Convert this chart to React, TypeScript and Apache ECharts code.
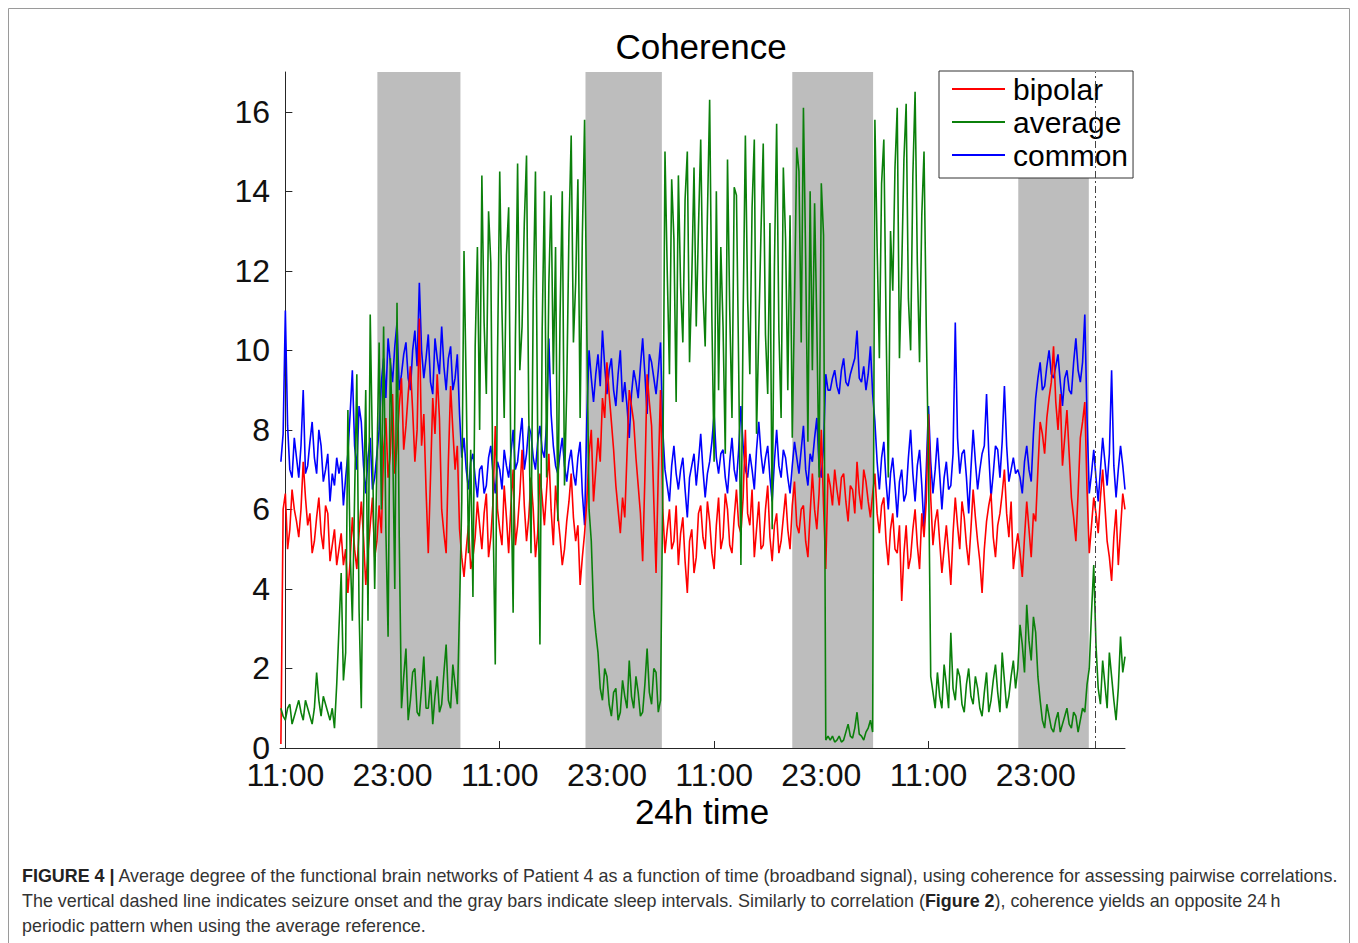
import React, { useEffect, useRef } from "react";
import * as echarts from "echarts";

// time axis: hours since the first 11:00 tick; main samples every half hour,
// the *Mid arrays hold the readings a quarter hour after each main sample
const T0 = -0.5;
const STEP = 0.5;

const bipolar = [
  0.1, 6.4, 5.5, 6.0, 5.3, 7.2, 5.6, 4.9, 5.8, 5.4, 6.1, 4.7, 5.5,
  5.0, 4.6, 3.9, 5.8, 4.5, 6.2, 4.1, 5.6, 4.8,
  6.1, 7.5, 6.8, 8.9, 7.6, 9.3, 8.1, 9.6, 7.2, 10.8, 8.4, 4.9, 8.8, 9.4, 6.0, 4.9, 9.1, 7.0, 5.5,
  4.3, 5.6, 4.8, 6.2, 5.0, 6.4, 5.3, 8.1, 5.5, 6.6, 4.9, 7.0, 5.6, 7.5, 5.2, 6.8, 4.8, 6.9, 5.6, 7.4, 5.1, 5.9, 4.6, 5.7, 6.9, 5.2, 4.1, 5.4,
  7.4, 6.2, 7.8, 8.8, 9.7, 8.2, 6.6, 5.4, 5.8, 9.0, 8.2, 6.6, 4.7, 9.4, 8.1, 4.4, 9.0,
  4.9, 6.0, 5.2, 4.6, 5.8, 3.9, 5.5, 4.8, 6.1, 5.0, 5.7, 4.5, 6.3, 5.3, 6.0, 4.9, 6.5, 5.4, 8.0, 5.6, 4.8, 6.2, 5.1, 6.6, 4.7, 5.9, 5.2, 6.4, 5.0, 6.7, 5.4, 6.1, 4.8, 6.9, 5.5, 8.0, 4.5,
  6.6, 7.0, 6.1, 6.9, 5.7, 6.5, 7.2, 6.0, 6.7, 5.8,
  6.9, 5.4, 6.3, 4.6, 5.9, 4.9, 3.7, 5.6, 4.8, 6.0, 4.5, 5.3, 8.4,
  5.1, 6.0, 4.4, 5.6, 4.1, 6.3, 5.0, 5.8, 4.6, 6.5, 5.2, 3.9, 5.7, 6.4, 4.8, 5.9, 7.0, 5.3, 4.5,
  5.4, 4.3, 6.2, 4.8, 5.7, 8.2, 7.4, 8.8, 10.1, 8.0, 7.1, 8.5, 6.3, 5.2, 7.8, 8.7,
  4.9, 6.3, 5.4, 7.0, 5.2, 4.2, 6.0, 5.5, 6.0,
];
const bipolarMid = [
  6.0, 5.0, 6.5, 5.7, 6.0, 6.3, 5.9, 5.2, 6.3, 5.0, 5.9, 5.1, 4.6,
  5.4, 5.0, 4.7, 5.0, 5.4, 5.3, 4.9, 6.3, 5.2,
  5.4, 8.3, 7.4, 6.9, 8.6, 7.5, 8.9, 8.5, 8.0, 7.6, 6.5, 6.8, 7.9, 8.3, 5.4, 7.2, 8.0, 7.6, 4.8,
  5.0, 4.5, 5.3, 5.6, 5.9, 4.8, 6.2, 6.0, 5.1, 5.8, 6.1, 5.1, 6.4, 6.1, 5.8, 6.0, 5.4, 6.3, 6.5, 6.0, 6.6, 5.3, 5.0, 6.2, 5.8, 5.6, 4.8, 6.2,
  8.0, 7.0, 7.2, 8.3, 8.9, 7.5, 6.0, 6.3, 7.4, 8.6, 7.3, 5.9, 6.8, 8.7, 6.2, 6.9, 6.0,
  5.5, 5.0, 6.1, 5.4, 4.7, 5.2, 4.4, 5.9, 5.3, 6.2, 4.9, 5.6, 5.0, 6.4, 5.1, 5.8, 5.6, 6.3, 5.9, 6.5, 5.5, 5.0, 6.0, 5.3, 5.6, 4.9, 5.8, 5.5, 6.1, 5.6, 6.0, 5.2, 5.9, 6.0, 6.4, 6.1, 6.9,
  6.1, 6.5, 6.8, 6.2, 6.6, 5.9, 6.4, 7.0, 6.2, 6.4,
  5.9, 6.1, 5.2, 5.5, 5.0, 5.6, 4.9, 4.5, 5.5, 5.1, 5.9, 6.2, 6.3,
  5.7, 5.2, 5.0, 4.9, 5.4, 5.6, 6.2, 5.1, 5.5, 5.8, 4.7, 5.0, 6.1, 5.3, 5.6, 6.4, 5.9, 6.2, 5.0,
  4.9, 5.3, 5.5, 5.9, 7.0, 7.9, 8.3, 9.2, 8.7, 8.9, 7.8, 7.4, 5.8, 6.4, 8.2, 6.5,
  5.6, 5.9, 6.3, 6.1, 4.8, 5.3, 4.6, 6.4,
];

const average = [
  1.0, 0.7, 1.1, 0.8, 1.2, 0.7, 1.0, 0.6, 1.9, 0.8, 1.1, 0.7, 0.5,
  3.0, 1.7, 8.5, 3.2, 9.4, 1.0, 9.0, 10.9, 4.0,
  10.2, 10.6, 2.8, 7.9, 11.2, 1.0, 2.5, 1.2, 2.0, 0.8, 2.3, 1.0, 0.6, 1.8, 1.1, 2.6, 1.0, 1.6, 3.5,
  12.5, 4.9, 3.8, 12.6, 14.4, 8.9, 12.2, 2.1, 14.5, 8.3, 13.6, 3.4, 14.7, 10.6, 14.9, 4.9, 14.5, 2.6, 14.0, 11.7, 9.4, 5.7, 14.0, 9.0, 15.4, 11.7, 8.3, 15.8,
  6.0, 3.5, 2.4, 1.2, 1.8, 0.8, 1.5, 0.9, 1.3, 2.2, 1.0, 1.4, 0.9, 2.5, 1.1, 1.9, 1.2,
  15.0, 9.4, 12.8, 14.4, 10.2, 15.0, 11.8, 10.6, 15.3, 10.1, 16.3, 7.2, 9.0, 10.6, 14.8, 8.3, 13.9, 4.6, 15.4, 9.4, 15.3, 10.5, 15.2, 8.9, 5.5, 15.7, 8.3, 12.8, 13.4, 11.2, 14.5, 16.1, 7.7, 9.5, 10.6, 14.2, 0.2,
  0.2, 0.15, 0.3, 0.2, 0.6, 0.25, 0.9, 0.3, 0.4, 0.7,
  15.8, 9.8, 15.3, 6.8, 11.5, 16.1, 12.0, 16.2, 10.0, 16.5, 9.7, 15.0, 7.2,
  1.4, 1.9, 1.0, 1.6, 2.9, 1.2, 1.8, 0.9, 2.0, 1.1, 1.5, 0.8, 1.9, 1.2, 2.1, 0.9, 1.7, 1.3, 2.2,
  2.0, 2.6, 3.6, 2.2, 2.9, 1.2, 0.5, 0.8, 0.4, 0.9, 0.6, 1.0, 0.5, 0.8, 0.7, 0.9,
  2.0, 4.6, 1.5, 2.2, 1.0, 1.8, 0.7, 2.8, 2.3,
];
const averageMid = [
  0.8, 1.0, 0.6, 1.0, 0.9, 1.2, 0.8, 1.0, 1.2, 1.3, 0.9, 1.0, 1.6,
  4.4, 2.4, 5.0, 6.3, 3.5, 6.0, 3.2, 7.5, 7.2,
  6.0, 5.5, 9.8, 4.0, 5.3, 1.8, 0.7, 1.9, 0.9, 1.5, 1.0, 1.7, 1.3, 0.9, 1.9, 1.2, 2.1, 1.1, 6.2,
  9.0, 7.5, 10.1, 8.0, 10.7, 13.5, 5.9, 9.8, 11.0, 12.4, 6.9, 10.2, 9.5, 13.2, 8.4, 11.3, 7.8, 10.5, 6.8, 13.9, 12.6, 10.8, 6.6, 13.0, 10.2, 14.3, 12.9, 10.5,
  5.2, 2.9, 1.5, 2.0, 1.1, 1.4, 0.7, 1.7, 1.0, 1.3, 1.8, 0.8, 1.6, 1.4, 2.0, 0.9, 6.5,
  12.0, 14.3, 8.7, 11.6, 13.8, 9.7, 14.6, 13.1, 11.5, 13.4, 10.8, 14.0, 12.6, 7.4, 11.0, 14.1, 9.6, 10.9, 11.3, 13.6, 7.9, 13.0, 10.4, 13.2, 12.1, 10.5, 14.6, 9.0, 7.8, 15.1, 10.2, 12.3, 14.0, 13.7, 6.8, 12.9, 0.3,
  0.3, 0.2, 0.15, 0.4, 0.3, 0.5, 0.35, 0.2, 0.5, 0.4,
  12.6, 14.2, 10.7, 13.0, 14.6, 9.8, 14.8, 11.3, 14.4, 12.2, 13.4, 10.6, 1.8,
  1.0, 1.3, 2.1, 1.0, 1.5, 2.0, 1.1, 1.6, 1.3, 1.8, 1.0, 1.4, 0.9, 1.7, 1.4, 2.4, 1.0, 1.8, 1.5,
  3.1, 1.9, 2.7, 3.3, 1.8, 0.7, 1.1, 0.5, 0.7, 0.4, 0.8, 0.6, 0.9, 0.4, 1.0, 1.6,
  3.4, 2.6, 1.1, 1.6, 2.4, 1.2, 1.5, 1.9,
];

const common = [
  7.2, 11.0, 7.0, 7.8, 6.8, 9.0, 7.1, 8.2, 6.9, 7.6, 7.0, 6.2, 6.6,
  6.9, 6.1, 7.4, 9.5, 7.0, 8.2, 6.4, 7.8, 6.8,
  8.0, 9.8, 10.3, 9.2, 10.7, 9.4, 10.2, 9.0, 10.5, 11.7, 9.3, 10.4, 8.9, 9.8, 10.6, 9.0, 10.1, 9.3, 8.4,
  7.8, 6.5, 7.4, 6.3, 7.1, 6.6, 7.6, 6.4, 7.0, 7.5, 6.8, 8.0, 7.2, 8.3, 7.4, 7.9, 7.0, 8.1, 7.3, 10.3, 7.6, 6.9, 7.8, 6.7, 7.5, 6.6, 7.7, 5.6,
  10.0, 8.7, 9.9, 10.5, 8.9, 9.8, 8.6, 10.0, 9.2, 7.8, 9.5, 8.8, 10.3, 8.4, 9.7, 8.9, 10.2,
  7.0, 6.2, 7.6, 6.5, 7.3, 5.8, 7.1, 6.6, 7.9, 6.3, 7.2, 8.4, 6.9, 7.5, 6.4, 7.8, 6.7, 8.6, 7.0, 7.4, 6.5, 8.2, 6.9, 7.6, 6.2, 8.0, 6.8, 7.3, 6.4, 7.7, 6.9, 8.1, 6.6, 7.2, 8.3, 6.8, 9.4,
  9.0, 9.5, 8.9, 9.8, 9.1, 9.6, 10.5, 9.2, 9.0, 10.1,
  8.2, 6.5, 7.7, 6.0, 7.3, 5.8, 7.0, 6.4, 8.0, 6.2, 7.5, 5.5, 8.6,
  6.4, 7.8, 6.0, 7.2, 6.6, 10.7, 6.9, 7.5, 5.9, 8.0, 6.5, 7.4, 8.9, 6.3, 7.6, 6.8, 9.1, 6.7, 7.3,
  7.0, 6.4, 7.6, 6.7, 8.8, 9.7, 9.1, 10.0, 9.3, 9.9, 8.6, 9.5, 8.9, 10.3, 9.2, 10.9,
  6.4, 7.5, 6.2, 7.8, 6.6, 9.5, 6.3, 7.6, 6.5,
];
const commonMid = [
  7.9, 8.1, 6.8, 7.3, 7.6, 6.9, 7.7, 7.3, 8.0, 6.7, 7.4, 6.9, 7.3,
  7.2, 6.8, 8.4, 7.6, 8.6, 7.1, 7.3, 6.5, 7.4,
  9.2, 8.8, 9.7, 10.1, 9.0, 9.9, 9.3, 10.0, 9.6, 10.0, 9.8, 9.2, 10.3, 9.4, 9.6, 9.8, 9.0, 9.9, 7.3,
  7.0, 7.2, 6.8, 7.0, 6.4, 7.3, 6.9, 7.2, 6.5, 7.1, 7.4, 7.0, 7.8, 7.0, 8.1, 7.3, 7.7, 7.5, 8.2, 8.4, 7.1, 7.4, 7.1, 7.2, 6.9, 7.3, 6.4, 8.3,
  9.3, 9.4, 9.1, 9.6, 9.5, 9.0, 9.4, 8.7, 8.6, 8.9, 9.2, 9.6, 9.4, 9.9, 9.3, 9.5, 8.0,
  6.6, 7.1, 6.9, 7.0, 6.5, 6.8, 7.4, 7.2, 7.0, 6.9, 7.7, 7.3, 7.4, 6.8, 7.2, 7.0, 7.5, 7.6, 6.8, 7.0, 7.5, 7.4, 7.3, 6.8, 7.2, 7.1, 7.5, 6.8, 7.1, 7.3, 7.5, 7.0, 7.4, 7.8, 7.1, 7.6, 9.0,
  9.3, 9.1, 9.5, 9.2, 9.4, 9.8, 9.3, 9.6, 9.4, 8.9,
  7.2, 7.3, 6.7, 6.9, 6.6, 6.7, 6.2, 7.3, 6.9, 7.1, 6.6, 7.0, 7.2,
  7.0, 6.9, 6.8, 6.5, 7.4, 7.8, 7.4, 6.8, 7.0, 7.2, 7.0, 7.6, 7.4, 6.9, 7.5, 7.7, 7.6, 7.0, 6.9,
  6.8, 7.2, 7.0, 7.9, 9.3, 9.0, 9.6, 9.4, 9.6, 9.2, 9.3, 9.0, 9.7, 9.5, 9.7, 8.3,
  6.9, 6.8, 7.0, 7.2, 7.4, 7.1, 7.0, 7.1,
];

const X_TICKS = [0, 12, 24, 36, 48, 60, 72, 84];
const X_TICK_LABELS = ["11:00", "23:00", "11:00", "23:00", "11:00", "23:00", "11:00", "23:00"];
const Y_TICKS = [0, 2, 4, 6, 8, 10, 12, 14, 16];
const SLEEP_INTERVALS = [
  [10.3, 19.6],
  [33.6, 42.15],
  [56.75, 65.8],
  [82.05, 89.95],
];
const SEIZURE_ONSET = 90.7;

const SERIES_NAMES = ["bipolar", "average", "common"];
const TITLE = "Coherence";
const X_NAME = "24h time";
const CAPTION = [
  "{b|FIGURE 4 |} Average degree of the functional brain networks of Patient 4 as a function of time (broadband signal), using coherence for assessing pairwise correlations.",
  "The vertical dashed line indicates seizure onset and the gray bars indicate sleep intervals. Similarly to correlation ({b|Figure 2}), coherence yields an opposite 24\u2009h",
  "periodic pattern when using the average reference.",
];

const FONT = "'Liberation Sans', Arial, Helvetica, sans-serif";

function toPoints(values: number[], mids: number[]) {
  const pts: number[][] = [];
  values.forEach((v, i) => {
    const t = T0 + i * STEP;
    pts.push([t, v]);
    if (i < values.length - 1 && mids[i] !== undefined) pts.push([t + STEP / 2, mids[i]]);
  });
  return pts;
}

export default function App() {
  const ref = useRef<HTMLDivElement>(null);

  useEffect(() => {
    if (!ref.current) return;
    const chart = echarts.init(ref.current, null, { renderer: "svg" });
    const axisColor = "#262626";

    const lineSeries = (name: string, values: number[], mids: number[], color: string, z: number) => ({
      name,
      type: "line",
      data: toPoints(values, mids),
      showSymbol: false,
      symbol: "none",
      z,
      lineStyle: { color, width: 1.6 },
      itemStyle: { color },
      emphasis: { disabled: true },
      silent: true,
    });

    chart.setOption({
      animation: false,
      backgroundColor: "#ffffff",
      grid: { left: 280, top: 72, width: 845, height: 676, containLabel: false },
      legend: {
        data: SERIES_NAMES,
        orient: "vertical",
        left: 939,
        top: 71,
        backgroundColor: "#ffffff",
        borderColor: "#333333",
        borderWidth: 1,
        borderRadius: 0,
        padding: [3, 5, 8, 13],
        itemGap: 3,
        itemWidth: 53,
        itemHeight: 2,
        icon: "rect",
        selectedMode: false,
        textStyle: { fontSize: 30, fontFamily: FONT, color: "#000", lineHeight: 28, padding: [0, 0, 0, 3] },
      },
      xAxis: {
        type: "value",
        min: -0.6,
        max: 94,
        axisLine: { show: true, lineStyle: { color: axisColor, width: 1 } },
        axisTick: {
          show: true,
          inside: true,
          length: 7,
          customValues: X_TICKS,
          lineStyle: { color: axisColor, width: 1 },
        },
        axisLabel: {
          customValues: X_TICKS,
          formatter: (v: number) => {
            const idx = X_TICKS.indexOf(Math.round(v));
            return idx >= 0 ? X_TICK_LABELS[idx] : "";
          },
          fontSize: 32,
          lineHeight: 24,
          fontFamily: FONT,
          color: "#111",
          margin: 15,
        },
        splitLine: { show: false },
      },
      yAxis: {
        type: "value",
        min: 0,
        max: 17,
        axisLine: { show: true, lineStyle: { color: axisColor, width: 1 } },
        axisTick: {
          show: true,
          inside: true,
          length: 7,
          customValues: Y_TICKS,
          lineStyle: { color: axisColor, width: 1 },
        },
        axisLabel: {
          customValues: Y_TICKS,
          fontSize: 32,
          lineHeight: 24,
          fontFamily: FONT,
          color: "#111",
          margin: 10,
        },
        splitLine: { show: false },
      },
      series: [
        {
          name: "__bands",
          type: "line",
          data: [],
          z: 1,
          silent: true,
          markArea: {
            silent: true,
            itemStyle: { color: "#bdbdbd", opacity: 1 },
            data: SLEEP_INTERVALS.map(([a, b]) => [{ xAxis: a }, { xAxis: b }]),
          },
          markLine: {
            silent: true,
            symbol: ["none", "none"],
            label: { show: false },
            lineStyle: { color: "#444", width: 1, type: [7, 3, 2, 3] },
            data: [{ xAxis: SEIZURE_ONSET }],
          },
        },
        lineSeries("bipolar", bipolar, bipolarMid, "#ff0000", 3),
        lineSeries("average", average, averageMid, "#0b800b", 4),
        lineSeries("common", common, commonMid, "#0000ff", 2),
      ],
      graphic: [
        {
          type: "rect",
          silent: true,
          z: 0,
          shape: { x: 8.5, y: 8.5, width: 1341, height: 960 },
          style: { fill: "none", stroke: "#9a9a9a", lineWidth: 1 },
        },
        {
          type: "text",
          silent: true,
          x: 701,
          y: 46,
          style: {
            text: TITLE,
            align: "center",
            verticalAlign: "middle",
            fontSize: 35,
            fontFamily: FONT,
            fill: "#000",
          },
        },
        {
          type: "text",
          silent: true,
          x: 702,
          y: 811,
          style: {
            text: X_NAME,
            align: "center",
            verticalAlign: "middle",
            fontSize: 35,
            fontFamily: FONT,
            fill: "#000",
          },
        },
        ...CAPTION.map((line, i) => ({
          type: "text",
          silent: true,
          x: 22,
          y: 876 + i * 25,
          style: {
            text: line,
            align: "left",
            verticalAlign: "middle",
            fontSize: 17.9,
            fontFamily: FONT,
            fill: "#333",
            rich: {
              b: { fontWeight: "bold", fontSize: 17.9, fontFamily: FONT, fill: "#222" },
            },
          },
        })),
      ],
    });

    return () => chart.dispose();
  }, []);

  return (
    <div
      ref={ref}
      style={{ position: "absolute", left: 0, top: 0, width: 1358, height: 943, background: "#fff" }}
    />
  );
}
